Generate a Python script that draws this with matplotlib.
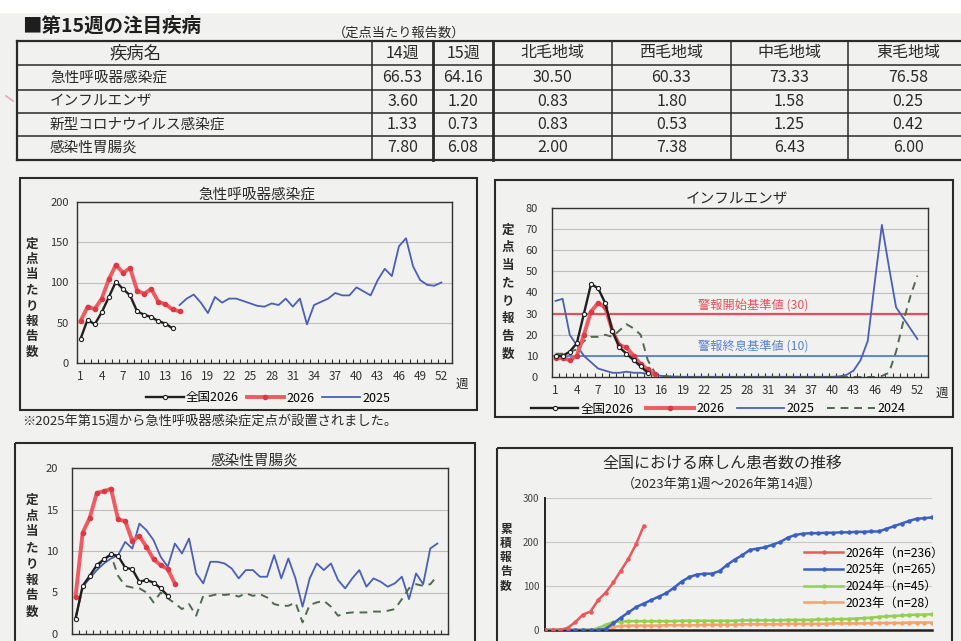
import numpy as np
import matplotlib

matplotlib.use("Agg")
import matplotlib.pyplot as plt
from matplotlib.patches import Rectangle

plt.rcParams['font.family'] = ['Noto Sans CJK JP', 'DejaVu Sans']

W, H = 961, 641
PAPER = "#f1f1f0"
INK = "#2a2a2a"

# --- table ---
TABLE_HEAD = ["疾病名", "14週", "15週", "北毛地域", "西毛地域", "中毛地域", "東毛地域"]
DISEASES = ["急性呼吸器感染症", "インフルエンザ", "新型コロナウイルス感染症", "感染性胃腸炎"]
W14 = [66.53, 3.60, 1.33, 7.80]
W15 = [64.16, 1.20, 0.73, 6.08]
HOKUMO = [30.50, 0.83, 0.83, 2.00]
SEIMO = [60.33, 1.80, 0.53, 7.38]
CHUMO = [73.33, 1.58, 1.25, 6.43]
TOMO = [76.58, 0.25, 0.42, 6.00]

# --- 急性呼吸器感染症 ---
ari_nat26 = [30, 54, 48, 63, 82, 101, 92, 84, 64, 60, 57, 52, 49, 43]
ari_26 = [52, 70, 67, 80, 104, 122, 112, 118, 90, 86, 92, 76, 73, 66.53, 64.16]
ari_25_start = 15
ari_25 = [72, 80, 85, 75, 62, 82, 75, 80, 80, 77, 74, 71, 70, 74, 72, 80, 70, 80, 48,
          72, 76, 80, 87, 84, 84, 94, 89, 84, 103, 117, 108, 145, 155, 120, 103, 97, 96, 100]

# --- インフルエンザ ---
flu_nat26 = [10, 10, 12, 16, 30, 44, 42, 35, 22, 14, 11, 8, 5, 2]
flu_26 = [9, 9, 8, 10, 20, 31, 35, 33, 22, 15, 14, 10, 6, 3.60, 1.20]
flu_25 = [36, 37, 20, 15, 10, 7, 4, 3, 2, 2, 2.5, 2, 2, 1.5, 1, 0.5, 0.3, 0.2, 0.1, 0.1,
          0.1, 0.1, 0.1, 0.1, 0.1, 0.1, 0.1, 0.1, 0.1, 0.1, 0.1, 0.1, 0.1, 0.1, 0.1, 0.1,
          0.1, 0.1, 0.1, 0.1, 0.3, 1, 3, 8, 17, 45, 72, 52, 33, 28, 23, 18]
flu_24 = [11, 11, 12, 13, 17, 19, 19, 20, 19, 22, 25, 23, 20, 8, 2, 0.5, 0.2, 0.1, 0, 0,
          0, 0, 0, 0, 0, 0, 0, 0, 0, 0, 0, 0, 0, 0, 0, 0, 0, 0, 0, 0, 0, 0, 0, 0, 0, 0,
          0.5, 2, 12, 26, 38, 48]
FLU_ALERT_ON = 30
FLU_ALERT_OFF = 10

# --- 感染性胃腸炎 ---
gas_nat26 = [1.8, 5.8, 7.0, 8.3, 9.0, 9.6, 9.4, 8.0, 7.8, 6.3, 6.5, 6.2, 5.5, 4.6]
gas_26 = [4.5, 12.2, 14.0, 17.0, 17.2, 17.5, 13.8, 13.6, 11.2, 11.8, 10.5, 9.0, 8.3, 7.80, 6.08]
gas_25 = [1.9, 5.7, 6.7, 7.7, 8.5, 9.1, 9.5, 11.1, 10.3, 13.3, 12.5, 11.3, 9.3, 8.1, 10.9,
          9.7, 11.5, 7.3, 6.1, 8.7, 8.7, 8.5, 7.9, 6.7, 7.7, 7.7, 6.9, 6.9, 9.5, 6.7, 9.1,
          6.7, 3.3, 6.7, 8.5, 7.7, 8.5, 6.5, 5.5, 6.7, 7.7, 5.7, 6.7, 6.3, 5.7, 6.1, 6.9,
          4.2, 7.3, 6.0, 10.3, 10.9]
gas_24 = [2.0, 5.5, 6.8, 8.0, 9.0, 9.5, 7.0, 5.8, 5.6, 5.5, 5.0, 3.8, 5.0, 4.3, 3.7, 3.0,
          3.6, 2.2, 4.6, 4.6, 4.8, 4.7, 4.8, 4.5, 4.9, 4.6, 4.8, 4.4, 3.6, 3.4, 3.4, 3.8,
          1.4, 3.5, 3.8, 4.0, 3.3, 2.2, 2.5, 2.6, 2.6, 2.6, 2.7, 2.7, 2.8, 3.0, 4.2, 5.5,
          6.0, 5.8, 6.0, 7.0]

# --- 麻しん (cumulative) ---
msl_26 = [0, 0, 0, 5, 18, 35, 42, 68, 85, 108, 135, 162, 195, 236]
msl_25 = [0, 0, 0, 0, 0, 0, 0, 0, 3, 15, 28, 40, 52, 60, 68, 76, 84, 96, 110, 120, 126,
          128, 128, 134, 148, 160, 170, 182, 185, 188, 194, 200, 210, 216, 219, 220, 220,
          221, 221, 222, 222, 223, 223, 224, 224, 230, 236, 242, 248, 253, 254, 256]
msl_24 = [0, 0, 0, 0, 0, 0, 0, 4, 12, 18, 19, 20, 20, 20, 20, 20, 20, 20, 21, 21, 21, 21,
          21, 21, 21, 21, 22, 22, 22, 22, 22, 22, 23, 23, 23, 23, 24, 24, 24, 25, 25, 26,
          27, 28, 30, 31, 32, 33, 34, 35, 35, 36]
msl_23 = [0, 0, 0, 0, 0, 0, 0, 0, 3, 7, 9, 10, 10, 10, 10, 10, 11, 11, 11, 11, 11, 12,
          12, 12, 12, 12, 13, 13, 13, 13, 13, 13, 14, 14, 14, 14, 14, 14, 15, 15, 15, 15,
          15, 16, 16, 16, 16, 16, 17, 17, 17, 17]
MSL_LABELS = ["2026年（n=236）", "2025年（n=265）", "2024年（n=45）", "2023年（n=28）"]

C_RED, C_BLUE, C_DASH = "#ef5b60", "#4a5fb5", "#4f6a4c"


def box(x0, y0, x1, y1):
    return [x0 / W, 1 - y1 / H, (x1 - x0) / W, (y1 - y0) / H]


fig = plt.figure(figsize=(W / 100, H / 100), dpi=100, facecolor=PAPER)
bg = fig.add_axes([0, 0, 1, 1])
bg.set_xlim(0, W)
bg.set_ylim(H, 0)
bg.axis("off")
bg.add_patch(Rectangle((0, 0), W, 12, color="white", zorder=0))


def vtext(x, y0, y1, s, size=9):
    n = len(s)
    for i, ch in enumerate(s):
        bg.text(x, y0 + (y1 - y0) * i / (n - 1), ch, fontsize=size, ha="center",
                va="center", color=INK, fontweight="bold")


# title
bg.text(22, 26, "■第15週の注目疾病", fontsize=14, fontweight="bold", va="center", color="#1e1e1e")
bg.text(333, 33, "（定点当たり報告数）", fontsize=9.5, va="center", color=INK)
bg.plot([6, 13], [96, 101], color="#e8a5b5", lw=1.2)

# table grid
row_y = [41, 65, 90, 113, 136, 160]
col_x = [17, 372, 433, 493, 612, 731, 848, 968]
for i, y in enumerate(row_y):
    lw = 1.6 if i in (0, len(row_y) - 1) else 1.1
    bg.plot([col_x[0], col_x[-1]], [y, y], color=INK, lw=lw)
for i, x in enumerate(col_x[:-1]):
    lw = 2.0 if i in (2, 3) else 1.1
    if i == 0:
        lw = 1.6
    bg.plot([x, x], [row_y[0], row_y[-1]], color=INK, lw=lw)

head_y = (row_y[0] + row_y[1]) / 2
bg.text(136, head_y, TABLE_HEAD[0], fontsize=12.5, ha="center", va="center", color=INK)
for j, name in enumerate(TABLE_HEAD[1:]):
    bg.text((col_x[j + 1] + col_x[j + 2]) / 2, head_y, name, fontsize=11.5,
            ha="center", va="center", color=INK)
columns = [W14, W15, HOKUMO, SEIMO, CHUMO, TOMO]
for r, name in enumerate(DISEASES):
    yc = (row_y[r + 1] + row_y[r + 2]) / 2
    bg.text(50, yc, name, fontsize=10.5, va="center", color=INK)
    for j, col in enumerate(columns):
        bg.text((col_x[j + 1] + col_x[j + 2]) / 2, yc, f"{col[r]:.2f}", fontsize=11.5,
                ha="center", va="center", color=INK)

# chart frames
for (x0, y0, x1, y1) in [(20, 178, 477, 410), (495, 180, 953, 417),
                         (15, 443, 475, 700), (497, 448, 952, 700)]:
    bg.add_patch(Rectangle((x0, y0), x1 - x0, y1 - y0, fill=False, ec=INK, lw=1.5))


def week_axes(rect, ymax, ystep, title, title_xy, ypad):
    ax = fig.add_axes(box(*rect))
    ax.set_facecolor("none")
    ax.set_xlim(0.5, 53.5)
    ax.set_ylim(0, ymax)
    ax.set_yticks(np.arange(0, ymax + 1, ystep))
    ax.set_xticks(range(1, 53, 3))
    ax.set_xticks(np.arange(0.5, 53.6, 1), minor=True)
    ax.tick_params(axis="x", which="major", length=0, labelsize=8.5, pad=5, colors="#333")
    ax.tick_params(axis="x", which="minor", direction="in", length=3, width=0.8, color="#333")
    ax.tick_params(axis="y", length=0, labelsize=8, pad=ypad, colors="#333")
    ax.grid(axis="y", color="#bdbdbd", lw=0.8)
    ax.set_axisbelow(True)
    for s in ax.spines.values():
        s.set_color("#333")
        s.set_linewidth(1.0)
    bg.text(*title_xy, title, fontsize=10.5, ha="center", va="bottom", color=INK)
    return ax


def draw_2026(ax, nat, cur):
    ax.plot(np.arange(1, len(nat) + 1), nat, color="#202020", lw=1.7, marker="o", ms=3,
            mfc="white", mec="#202020", mew=0.8, label="全国2026", zorder=4)
    ax.plot(np.arange(1, len(cur) + 1), cur, color=C_RED, lw=2.8, marker="o", ms=3,
            mfc="#d93a45", mec="#d93a45", label="2026", zorder=3)


# chart 1
ax1 = week_axes((77, 202, 452, 363), 200, 50, "急性呼吸器感染症", (257, 202), 6)
draw_2026(ax1, ari_nat26, ari_26)
ax1.plot(np.arange(ari_25_start, ari_25_start + len(ari_25)), ari_25, color=C_BLUE, lw=1.3,
         label="2025", zorder=2)
ax1.legend(loc="center", bbox_to_anchor=(268 / W, 1 - 398 / H), bbox_transform=fig.transFigure,
           ncol=3, frameon=False, fontsize=9, handlelength=3.0, columnspacing=0.6,
           handletextpad=0.2, borderpad=0)
bg.text(462, 384, "週", fontsize=9, va="center", ha="center", color=INK)
vtext(32, 244, 352, "定点当たり報告数")
bg.text(22, 421, "※2025年第15週から急性呼吸器感染症定点が設置されました。", fontsize=9.5,
        va="center", color=INK)

# chart 2
ax2 = week_axes((552, 208, 928, 377), 80, 10, "インフルエンザ", (737, 206), 10)
draw_2026(ax2, flu_nat26, flu_26)
ax2.plot(np.arange(1, len(flu_25) + 1), flu_25, color=C_BLUE, lw=1.3, label="2025", zorder=2)
ax2.plot(np.arange(1, len(flu_24) + 1), flu_24, color=C_DASH, lw=1.4, ls=(0, (4, 3)),
         label="2024", zorder=2)
ax2.axhline(FLU_ALERT_ON, color="#e4505c", lw=1.6, zorder=1)
ax2.axhline(FLU_ALERT_OFF, color="#5a80cc", lw=1.3, zorder=1)
ax2.text(28.8, FLU_ALERT_ON + 1.2, f"警報開始基準値 ({FLU_ALERT_ON})", fontsize=8.8,
         ha="center", va="bottom", color="#e4505c")
ax2.text(28.8, FLU_ALERT_OFF + 1.6, f"警報終息基準値 ({FLU_ALERT_OFF})", fontsize=8.8,
         ha="center", va="bottom", color="#5a80cc")
ax2.legend(loc="center", bbox_to_anchor=(718 / W, 1 - 409 / H), bbox_transform=fig.transFigure,
           ncol=4, frameon=False, fontsize=9, handlelength=3.8, columnspacing=1.0,
           handletextpad=0.2, borderpad=0)
bg.text(942, 393, "週", fontsize=9, va="center", ha="center", color=INK)
vtext(508, 230, 354, "定点当たり報告数")

# chart 3 (its week labels fall below the page edge)
ax3 = week_axes((72, 468, 448, 634), 20, 5, "感染性胃腸炎", (254, 468), 10)
ax3.tick_params(axis="x", which="major", labelbottom=False)
draw_2026(ax3, gas_nat26, gas_26)
ax3.plot(np.arange(1, len(gas_25) + 1), gas_25, color=C_BLUE, lw=1.3, label="2025", zorder=2)
ax3.plot(np.arange(1, len(gas_24) + 1), gas_24, color=C_DASH, lw=1.4, ls=(0, (4, 3)),
         label="2024", zorder=2)
vtext(32, 500, 612, "定点当たり報告数")

# chart 4
ax4 = fig.add_axes(box(545, 498, 932, 630))
ax4.set_facecolor("none")
ax4.set_xlim(1, 52)
ax4.set_ylim(0, 300)
ax4.set_yticks([0, 100, 200, 300])
ax4.set_xticks([])
ax4.tick_params(axis="y", length=0, labelsize=7, pad=4, colors="#444")
ax4.grid(axis="y", color="#c8c8c8", lw=0.8)
ax4.set_axisbelow(True)
ax4.spines["top"].set_visible(False)
ax4.spines["right"].set_visible(False)
ax4.spines["left"].set_linewidth(1.4)
ax4.spines["bottom"].set_linewidth(1.8)
ax4.spines["left"].set_color("#222")
ax4.spines["bottom"].set_color("#222")
for vals, col in [(msl_26, "#e8585c"), (msl_25, "#3c5fc2"), (msl_24, "#92d050"),
                  (msl_23, "#f4a36c")]:
    ax4.plot(np.arange(1, len(vals) + 1), vals, color=col, lw=1.8, marker="o", ms=2.2,
             label=MSL_LABELS[len(ax4.lines)])
ax4.lines[0].set_zorder(5)
ax4.lines[1].set_zorder(4)
ax4.legend(loc="center left", bbox_to_anchor=(798 / W, 1 - 578 / H),
           bbox_transform=fig.transFigure, frameon=False, fontsize=8.8, handlelength=3.2,
           handletextpad=0.2, labelspacing=0.3, borderpad=0)
bg.text(722, 463, "全国における麻しん患者数の推移", fontsize=11.5, ha="center", va="center",
        color=INK)
bg.text(722, 484, "（2023年第1週～2026年第14週）", fontsize=9.5, ha="center", va="center",
        color=INK)
vtext(506, 529, 586, "累積報告数", size=8.5)

fig.savefig("out.png", dpi=100, facecolor=PAPER)
